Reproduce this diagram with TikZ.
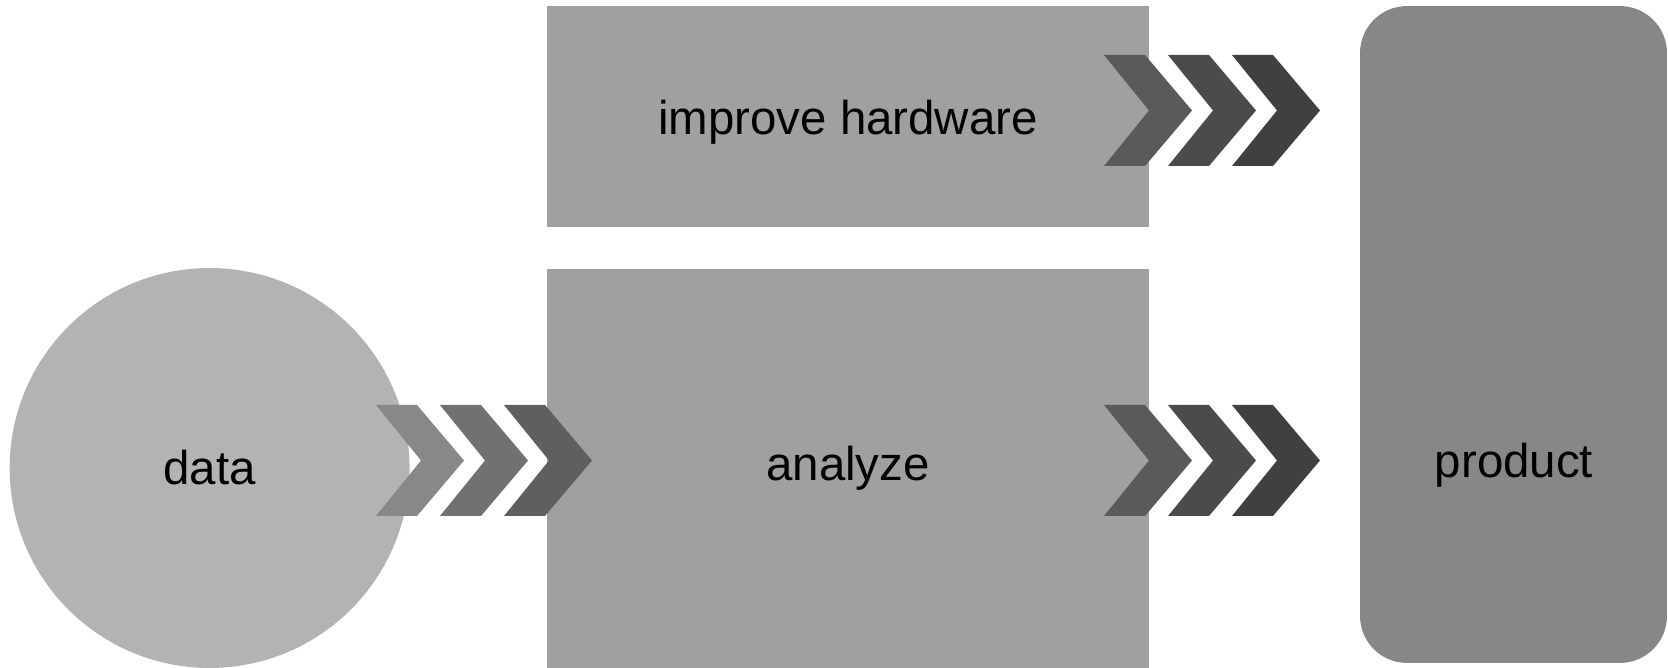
\documentclass[tikz,border=0pt]{standalone}
\usepackage{fontspec}
\setmainfont{Liberation Sans}

\definecolor{boxgray}{HTML}{A0A0A0}
\definecolor{datagray}{HTML}{B3B3B3}
\definecolor{prodgray}{HTML}{878787}
\definecolor{chevA}{HTML}{888888}
\definecolor{chevB}{HTML}{717171}
\definecolor{chevC}{HTML}{5F5F5F}
\definecolor{chevD}{HTML}{5A5A5A}
\definecolor{chevE}{HTML}{4B4B4B}
\definecolor{chevF}{HTML}{404040}

\tikzstyle{txt}=[font=\fontsize{27}{32}\selectfont,text=black]
\tikzstyle{box}=[rectangle,fill=boxgray,inner sep=0pt,minimum width=12.04cm,txt]
\tikzstyle{blob}=[circle,fill=datagray,inner sep=0pt,minimum size=8cm,txt]
\tikzstyle{prod}=[rectangle,rounded corners=0.94cm,fill=prodgray,inner sep=0pt,minimum width=6.14cm,minimum height=13.14cm]

\begin{document}
\begin{tikzpicture}[x=0.02cm,y=-0.02cm]
\useasboundingbox (0,0) rectangle (1668,668);
%\draw[help lines,step=100] (0,0) grid (1668,668);
\node[box,minimum height=4.42cm] (hw)   at (848,116.5) {};
\node[txt]                       (hwtext) at (848,122) {improve hardware};
\node[box,minimum height=7.98cm] (ana)  at (848,468.5) {analyze};
\node[blob]                      (data) at (209.6,468) {data};
\node[prod]                      (product) at (1513.5,334.5) {};
\node[txt]                       (prodtext) at (1514,465) {product};
% chevrons
\foreach \cx/\cy/\col in {376/405/chevA,440/405/chevB,504/405/chevC,
                          1104/55/chevD,1168/55/chevE,1232/55/chevF,
                          1104/405/chevD,1168/405/chevE,1232/405/chevF}
  \fill[\col] (\cx,\cy) -- ++(41,0) -- ++(47,55.5) -- ++(-47,55.5)
              -- ++(-41,0) -- ++(45,-55.5) -- cycle;
\end{tikzpicture}
\end{document}
